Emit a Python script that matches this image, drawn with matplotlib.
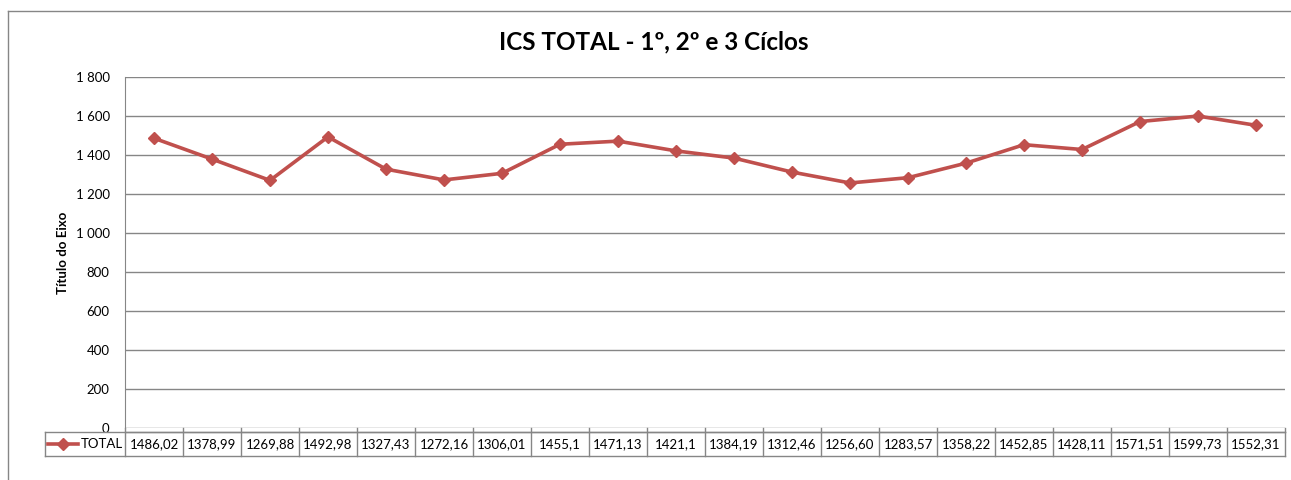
import numpy as np
import matplotlib.pyplot as plt
from matplotlib.transforms import blended_transform_factory
from matplotlib.lines import Line2D
from matplotlib.ticker import FuncFormatter

plt.rcParams['font.family'] = ['Lato', 'DejaVu Sans']

title = "ICS TOTAL - 1º, 2º e 3 Cíclos"
series_name = "TOTAL"
values = [1486.02, 1378.99, 1269.88, 1492.98, 1327.43, 1272.16, 1306.01, 1455.1,
          1471.13, 1421.1, 1384.19, 1312.46, 1256.60, 1283.57, 1358.22, 1452.85,
          1428.11, 1571.51, 1599.73, 1552.31]
value_labels = ["1486,02", "1378,99", "1269,88", "1492,98", "1327,43", "1272,16",
                "1306,01", "1455,1", "1471,13", "1421,1", "1384,19", "1312,46",
                "1256,60", "1283,57", "1358,22", "1452,85", "1428,11", "1571,51",
                "1599,73", "1552,31"]
yticks = [0, 200, 400, 600, 800, 1000, 1200, 1400, 1600, 1800]

W, H = 1291, 480
red = "#C0504D"
gray = "#868686"

fig = plt.figure(figsize=(W / 100, H / 100), dpi=100)
fig.patch.set_facecolor("white")

# outer chart border (cropped at right/bottom)
fig.add_artist(Line2D([8 / W, 8 / W], [0, 1 - 11 / H], transform=fig.transFigure, color=gray, lw=1))
fig.add_artist(Line2D([8 / W, 1], [1 - 11 / H, 1 - 11 / H], transform=fig.transFigure, color=gray, lw=1))

ax = fig.add_axes([125 / W, 1 - 428 / H, (1285 - 125) / W, (428 - 77) / H])
x = np.arange(len(values))
ax.plot(x, values, color=red, lw=2.6, marker="D", markersize=6, zorder=3)
ax.set_xlim(-0.5, len(values) - 0.5)
ax.set_ylim(0, 1800)
ax.set_yticks(yticks)
ax.yaxis.set_major_formatter(FuncFormatter(lambda v, p: f"{int(v):,}".replace(",", " ")))
ax.grid(axis="y", color=gray, lw=1)
ax.set_axisbelow(True)
for s in ["top", "right", "bottom"]:
    ax.spines[s].set_visible(False)
ax.spines["left"].set_color(gray)
ax.set_xticks([])
ax.tick_params(axis="y", length=0, pad=11, labelsize=9.5)
ax.set_ylabel("Título do Eixo", fontsize=9.5, fontweight="bold", labelpad=5)
fig.text(654 / W, 1 - 42 / H, title, ha="center", va="center", fontsize=17.5, fontweight="bold")

# data table below the axis
axh = 428 - 77
tr = blended_transform_factory(ax.transData, ax.transAxes)
y0 = 0
y1 = -4 / axh
y2 = -28 / axh
left = -0.5 - 80 / 58
right = len(values) - 0.5
kw = dict(transform=tr, color=gray, lw=1, clip_on=False)
ax.add_line(Line2D([-0.5, right], [y1, y1], **kw))
ax.add_line(Line2D([left, right], [y1 - 0.0001, y1 - 0.0001], **kw))
ax.add_line(Line2D([left, right], [y2, y2], **kw))
ax.add_line(Line2D([left, left], [y1, y2], **kw))
for b in np.arange(-0.5, len(values) + 0.5):
    ax.add_line(Line2D([b, b], [y0, y2], **kw))
ymid = (y1 + y2) / 2
for xi, lab in zip(x, value_labels):
    ax.text(xi, ymid, lab, transform=tr, ha="center", va="center", fontsize=9.5, clip_on=False)
# legend key
kx0 = left + 3 / 58
kx1 = left + 33 / 58
ax.add_line(Line2D([kx0, kx1], [ymid, ymid], transform=tr, color=red, lw=2.6, clip_on=False))
ax.add_line(Line2D([(kx0 + kx1) / 2], [ymid], transform=tr, color=red, marker="D",
                   markersize=6, lw=0, clip_on=False))
ax.text(left + 36 / 58, ymid, series_name, transform=tr, ha="left", va="center", fontsize=9.5, clip_on=False)

fig.savefig("out.png", dpi=100)
